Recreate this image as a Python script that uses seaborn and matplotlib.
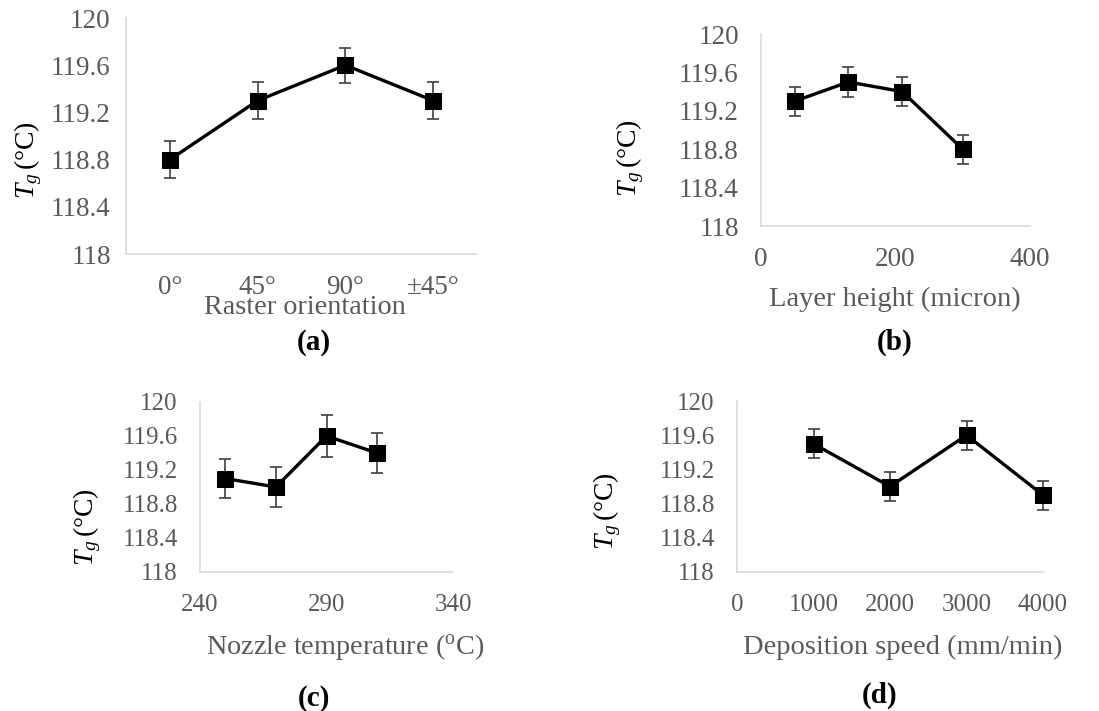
import matplotlib
matplotlib.use("Agg")
import matplotlib.pyplot as plt
import seaborn as sns

# --- data ---
orient_labels = ['0°', '45°', '90°', '±45°']
orient_tg = [118.8, 119.3, 119.6, 119.3]
orient_err = [0.16, 0.16, 0.15, 0.16]

layer_height = [50, 130, 210, 300]
layer_tg = [119.3, 119.5, 119.4, 118.8]
layer_err = [0.15, 0.16, 0.15, 0.15]

nozzle_temp = [250, 270, 290, 310]
nozzle_tg = [119.1, 119.0, 119.6, 119.4]
nozzle_err = [0.23, 0.23, 0.25, 0.24]

speed = [1000, 2000, 3000, 4000]
speed_tg = [119.5, 119.0, 119.6, 118.9]
speed_err = [0.17, 0.17, 0.17, 0.17]

y_ticks = [118, 118.4, 118.8, 119.2, 119.6, 120]
y_ticklabels = ['118', '118.4', '118.8', '119.2', '119.6', '120']

sns.set_style("white")
plt.rcParams['font.family'] = ['Liberation Serif', 'DejaVu Serif']
plt.rcParams['mathtext.fontset'] = 'custom'
plt.rcParams['mathtext.rm'] = 'Liberation Serif'
plt.rcParams['mathtext.it'] = 'Liberation Serif:italic'

W, H = 1099, 711
fig = plt.figure(figsize=(W / 100, H / 100), dpi=100)

GRAY = '#595959'
SPINE = '#d9d9d9'


def make_ax(left, right, top, bottom):
    return fig.add_axes([left / W, 1 - bottom / H, (right - left) / W, (bottom - top) / H])


def style(ax, tick_fs, ypad, xpad, xlabel, xl_pos, yl_pos, lab_fs):
    ax.set_ylim(118, 120)
    ax.set_yticks(y_ticks)
    ax.set_yticklabels(y_ticklabels)
    for s in ['top', 'right']:
        ax.spines[s].set_visible(False)
    for s in ['left', 'bottom']:
        ax.spines[s].set_color(SPINE)
        ax.spines[s].set_linewidth(1.2)
    ax.tick_params(axis='both', length=0, colors=GRAY, labelsize=tick_fs)
    ax.tick_params(axis='y', pad=ypad)
    ax.tick_params(axis='x', pad=xpad)
    ax.set_xlabel(xlabel, fontsize=lab_fs, color=GRAY, va='center')
    ax.xaxis.set_label_coords(*xl_pos)
    ax.set_ylabel(r'$T_g\,$(°C)', fontsize=20, color='black', va='center')
    ax.yaxis.set_label_coords(*yl_pos)


def draw(ax, x, y, err):
    ax.errorbar(x, y, yerr=err, fmt='none', ecolor='#404040', elinewidth=1.2,
                capsize=4, capthick=1.2, zorder=2, clip_on=False)
    sns.lineplot(x=x, y=y, ax=ax, color='black', linewidth=2.4, marker='s',
                 markersize=11, markeredgecolor='black', zorder=3, clip_on=False)


# (a) raster orientation
ax_a = make_ax(126, 477, 18, 254)
draw(ax_a, orient_labels, orient_tg, orient_err)
ax_a.set_xlim(-0.5, 3.5)
style(ax_a, 19.5, 11, 15, 'Raster orientation', (0.51, -0.225), (-0.279, 0.40), 20.3)

# (b) layer height
ax_b = make_ax(761, 1030, 34, 226)
draw(ax_b, layer_height, layer_tg, layer_err)
ax_b.set_xlim(0, 400)
ax_b.set_xticks([0, 200, 400])
style(ax_b, 19.5, 16, 15, 'Layer height (micron)', (0.498, -0.385), (-0.487, 0.354), 20.5)

# (c) nozzle temperature
ax_c = make_ax(200, 453, 402, 572)
draw(ax_c, nozzle_temp, nozzle_tg, nozzle_err)
ax_c.set_xlim(240, 340)
ax_c.set_xticks([240, 290, 340])
style(ax_c, 18, 16, 16, 'Nozzle temperature ($\\mathregular{^o}$C)', (0.573, -0.441),
      (-0.447, 0.265), 20.3)

# (d) deposition speed
ax_d = make_ax(737, 1043, 401, 572)
draw(ax_d, speed, speed_tg, speed_err)
ax_d.set_xlim(0, 4000)
ax_d.set_xticks([0, 1000, 2000, 3000, 4000])
style(ax_d, 18, 16, 16, 'Deposition speed (mm/min)', (0.542, -0.439), (-0.425, 0.357), 20.5)

# panel letters
for lab, px, py in [('(a)', 314, 342), ('(b)', 895, 342), ('(c)', 314, 698), ('(d)', 880, 695)]:
    fig.text(px / W, 1 - py / H, lab, ha='center', va='center', fontsize=21,
             fontweight='bold', color='black')

fig.savefig('out.png', dpi=100)
